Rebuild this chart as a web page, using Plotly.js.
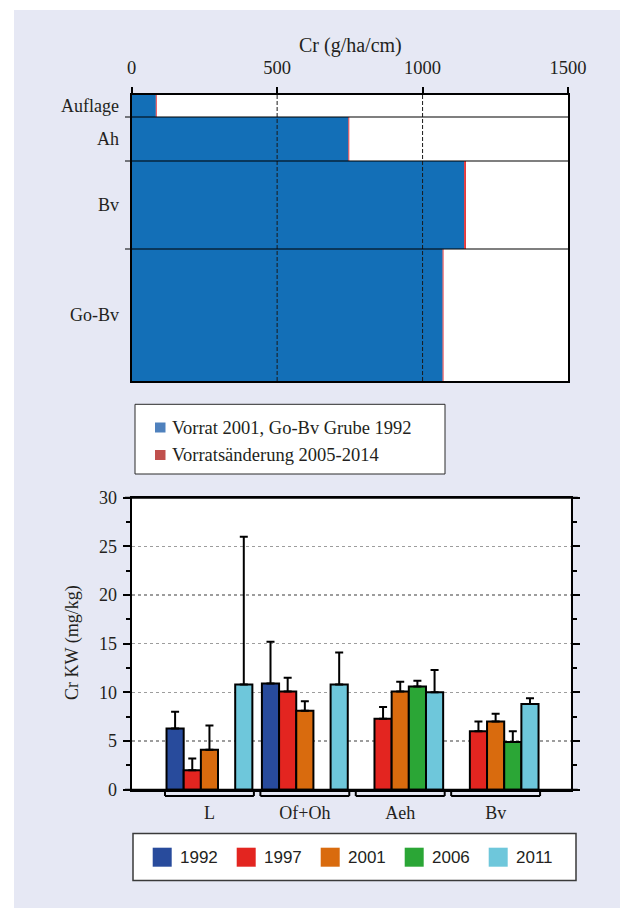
<!DOCTYPE html>
<html>
<head>
<meta charset="utf-8">
<script src="https://cdn.plot.ly/plotly-3.0.1.min.js"></script>
<style>html,body{margin:0;padding:0;background:#fff}</style>
</head>
<body>
<div id="chart" style="width:620px;height:908px"></div>
<script>
// ---- Upper panel: Cr stock per soil horizon ----
const horizons = ['Auflage', 'Ah', 'Bv', 'Go-Bv'];
const horizonThickness = [5, 10, 20, 30];      // cm, sets the band height
const stock = [83, 745, 1143, 1069];           // g/ha/cm
const stockChange = [3, 3, 6, 3];              // g/ha/cm
const stockTicks = [0, 500, 1000, 1500];
const stockLegend = ['Vorrat 2001, Go-Bv Grube 1992', 'Vorratsänderung 2005-2014'];

// ---- Lower panel: Cr KW by layer and year ----
const layers = ['L', 'Of+Oh', 'Aeh', 'Bv'];
const years = ['1992', '1997', '2001', '2006', '2011'];
const cr1992 = [6.3, 10.9, null, null];
const cr1997 = [2.0, 10.1, 7.3, 6.0];
const cr2001 = [4.1, 8.1, 10.1, 7.0];
const cr2006 = [null, null, 10.6, 4.9];
const cr2011 = [10.8, 10.8, 10.0, 8.8];
const sd1992 = [1.7, 4.3, null, null];
const sd1997 = [1.2, 1.4, 1.2, 1.0];
const sd2001 = [2.5, 1.0, 1.0, 0.8];
const sd2006 = [null, null, 0.6, 1.1];
const sd2011 = [15.2, 3.3, 2.3, 0.6];

const W = 620, H = 908;
const px = x => x / W;
const py = y => 1 - y / H;

const serif = 'Liberation Serif, Times New Roman, serif';
const sans = 'Liberation Sans, Arial, sans-serif';
const ink = '#231f20';

// horizon bands from cumulative depth
const bounds = [0];
horizonThickness.forEach(t => bounds.push(bounds[bounds.length - 1] + t));
const centers = horizonThickness.map((t, i) => bounds[i] + t / 2);
const offsets = horizonThickness.map(t => -t / 2);
const depth = bounds[bounds.length - 1];

const traces = [];
traces.push({
  type: 'bar', orientation: 'h', x: stock, y: centers,
  width: horizonThickness, offset: offsets,
  marker: {color: '#136fb7', line: {width: 0}},
  xaxis: 'x', yaxis: 'y', showlegend: false, hoverinfo: 'x'
});
traces.push({
  type: 'bar', orientation: 'h', x: stockChange, base: stock, y: centers,
  width: horizonThickness, offset: offsets,
  marker: {color: '#e4262a', line: {width: 0}},
  xaxis: 'x', yaxis: 'y', showlegend: false, hoverinfo: 'x'
});

const series = [cr1992, cr1997, cr2001, cr2006, cr2011];
const spread = [sd1992, sd1997, sd2001, sd2006, sd2011];
const yearColors = ['#284b9c', '#e32520', '#d96b0e', '#2ba636', '#6ec7db'];
years.forEach((yr, k) => {
  traces.push({
    type: 'bar', name: yr, x: layers, y: series[k],
    marker: {color: yearColors[k], line: {color: '#000', width: 2}},
    error_y: {type: 'data', array: spread[k], arrayminus: spread[k].map(() => 0),
              symmetric: false, color: '#000', thickness: 2, width: 4},
    xaxis: 'x2', yaxis: 'y3', showlegend: false
  });
});

const shapes = [];
// white frame strips around the lavender page
shapes.push({type: 'rect', xref: 'paper', yref: 'paper', x0: 0, x1: px(14), y0: 0, y1: 1,
             fillcolor: '#fff', line: {width: 0}, layer: 'below'});
shapes.push({type: 'rect', xref: 'paper', yref: 'paper', x0: 0, x1: 1, y0: py(10), y1: 1,
             fillcolor: '#fff', line: {width: 0}, layer: 'below'});

// dashed reference lines through the stock bars
stockTicks.filter(v => v > 0 && v < 1500).forEach(v => {
  shapes.push({type: 'line', xref: 'x', yref: 'y', x0: v, x1: v, y0: 0, y1: depth,
               line: {color: '#1a1a1a', width: 1, dash: '4px,2px'}, layer: 'above'});
});
// horizon boundaries
bounds.slice(1, -1).forEach(b => {
  shapes.push({type: 'line', xref: 'paper', yref: 'y', x0: px(125), x1: px(569), y0: b, y1: b,
               line: {color: '#000', width: 1.2}, layer: 'above'});
});

// lower frame lines running out past the side axes
[497.7, 789.7].forEach(yy => {
  shapes.push({type: 'line', xref: 'paper', yref: 'paper', x0: px(125), x1: px(577.7),
               y0: py(yy), y1: py(yy), line: {color: '#000', width: 2}});
});
// group brackets under each layer
layers.forEach((c, i) => {
  const a = i - 0.466, b = i + 0.466;
  const yh = py(796), yu = py(791.5);
  shapes.push({type: 'line', xref: 'x2', yref: 'paper', x0: a, x1: b, y0: yh, y1: yh, line: {color: '#000', width: 2}});
  shapes.push({type: 'line', xref: 'x2', yref: 'paper', x0: a, x1: a, y0: yh, y1: yu, line: {color: '#000', width: 2}});
  shapes.push({type: 'line', xref: 'x2', yref: 'paper', x0: b, x1: b, y0: yh, y1: yu, line: {color: '#000', width: 2}});
});

const annotations = [];
annotations.push({text: 'Cr (g/ha/cm)', xref: 'paper', yref: 'paper', x: px(350), y: py(45),
                  xanchor: 'center', yanchor: 'middle',
                  showarrow: false, font: {family: serif, size: 20, color: ink}});
annotations.push({text: 'Cr KW (mg/kg)', xref: 'paper', yref: 'paper', x: px(72), y: py(643),
                  xanchor: 'center', yanchor: 'middle',
                  textangle: -90, showarrow: false, font: {family: serif, size: 18, color: ink}});

// upper legend box
shapes.push({type: 'rect', xref: 'paper', yref: 'paper', x0: px(135), x1: px(445), y0: py(474), y1: py(404.3),
             fillcolor: '#fff', line: {color: '#2a2a2a', width: 1}});
const stockLegendColors = ['#4f81bd', '#c0504d'];
stockLegend.forEach((t, i) => {
  const yc = 427.5 + i * 27.5;
  shapes.push({type: 'rect', xref: 'paper', yref: 'paper', x0: px(155), x1: px(165.5),
               y0: py(yc + 5), y1: py(yc - 5), fillcolor: stockLegendColors[i], line: {width: 0}});
  annotations.push({text: t, xref: 'paper', yref: 'paper', x: px(170), y: py(yc), xanchor: 'left',
                    yanchor: 'middle', showarrow: false, font: {family: serif, size: 18.5, color: ink}});
});

// lower legend box
shapes.push({type: 'rect', xref: 'paper', yref: 'paper', x0: px(133), x1: px(576), y0: py(880.5), y1: py(833.5),
             fillcolor: '#fff', line: {color: '#3a3a3a', width: 1.5}});
years.forEach((yr, k) => {
  const x0 = 152.7 + 84 * k;
  shapes.push({type: 'rect', xref: 'paper', yref: 'paper', x0: px(x0), x1: px(x0 + 19),
               y0: py(866.7), y1: py(847.7), fillcolor: yearColors[k], line: {width: 0}});
  annotations.push({text: yr, xref: 'paper', yref: 'paper', x: px(x0 + 25), y: py(857.5), xanchor: 'left',
                    yanchor: 'middle', showarrow: false, font: {family: sans, size: 17, color: ink}});
});

const layout = {
  width: W, height: H, autosize: false,
  margin: {l: 0, r: 0, t: 0, b: 0, pad: 0},
  paper_bgcolor: '#e6e8f4', plot_bgcolor: '#ffffff',
  barmode: 'group', bargap: 0.1, bargroupgap: 0,
  showlegend: false,
  font: {family: serif, size: 18, color: ink},
  xaxis: {
    domain: [px(131.7), px(568)], anchor: 'y', side: 'top',
    range: [0, 1500], tickvals: stockTicks, ticktext: stockTicks.map(String),
    ticks: 'outside', ticklen: 6, tickwidth: 2, tickcolor: '#000',
    showline: true, linewidth: 2, linecolor: '#000', mirror: true,
    showgrid: false, zeroline: false, ticklabelstandoff: 6,
    tickfont: {family: serif, size: 18.5, color: ink}
  },
  yaxis: {
    domain: [py(381), py(95)], anchor: 'x',
    range: [depth, 0], tickvals: centers, ticktext: horizons,
    ticks: '', showline: true, linewidth: 2, linecolor: '#000', mirror: true,
    showgrid: false, zeroline: false, ticklabelstandoff: 7,
    tickfont: {family: serif, size: 18, color: ink}
  },
  yaxis2: {
    overlaying: 'y', anchor: 'x', side: 'left',
    range: [depth, 0], tickvals: bounds, showticklabels: false,
    ticks: 'outside', ticklen: 6, tickwidth: 2, tickcolor: '#000',
    showline: false, showgrid: false, zeroline: false
  },
  xaxis2: {
    domain: [px(131.7), px(570.7)], anchor: 'y3',
    type: 'category', categoryorder: 'array', categoryarray: layers,
    range: [-0.815, 3.787], ticks: '',
    showline: true, linewidth: 2, linecolor: '#000', mirror: true,
    showgrid: false, zeroline: false, ticklabelstandoff: 6,
    tickfont: {family: serif, size: 18, color: ink}
  },
  yaxis3: {
    domain: [py(789.7), py(497.7)], anchor: 'x2',
    range: [0, 30], tick0: 0, dtick: 5,
    ticks: 'outside', ticklen: 7, tickwidth: 2, tickcolor: '#000',
    minor: {ticks: 'outside', ticklen: 4, tickwidth: 2, tickcolor: '#000', tick0: 0, dtick: 2.5, showgrid: false},
    showline: true, linewidth: 2, linecolor: '#000', mirror: 'ticks',
    showgrid: true, gridcolor: '#9d9d9d', gridwidth: 1.5, griddash: '3px,3px',
    zeroline: false, ticklabelstandoff: 2,
    tickfont: {family: serif, size: 18, color: ink}
  },
  shapes: shapes,
  annotations: annotations
};

Plotly.newPlot('chart', traces, layout, {displayModeBar: false, staticPlot: true});
</script>
</body>
</html>
